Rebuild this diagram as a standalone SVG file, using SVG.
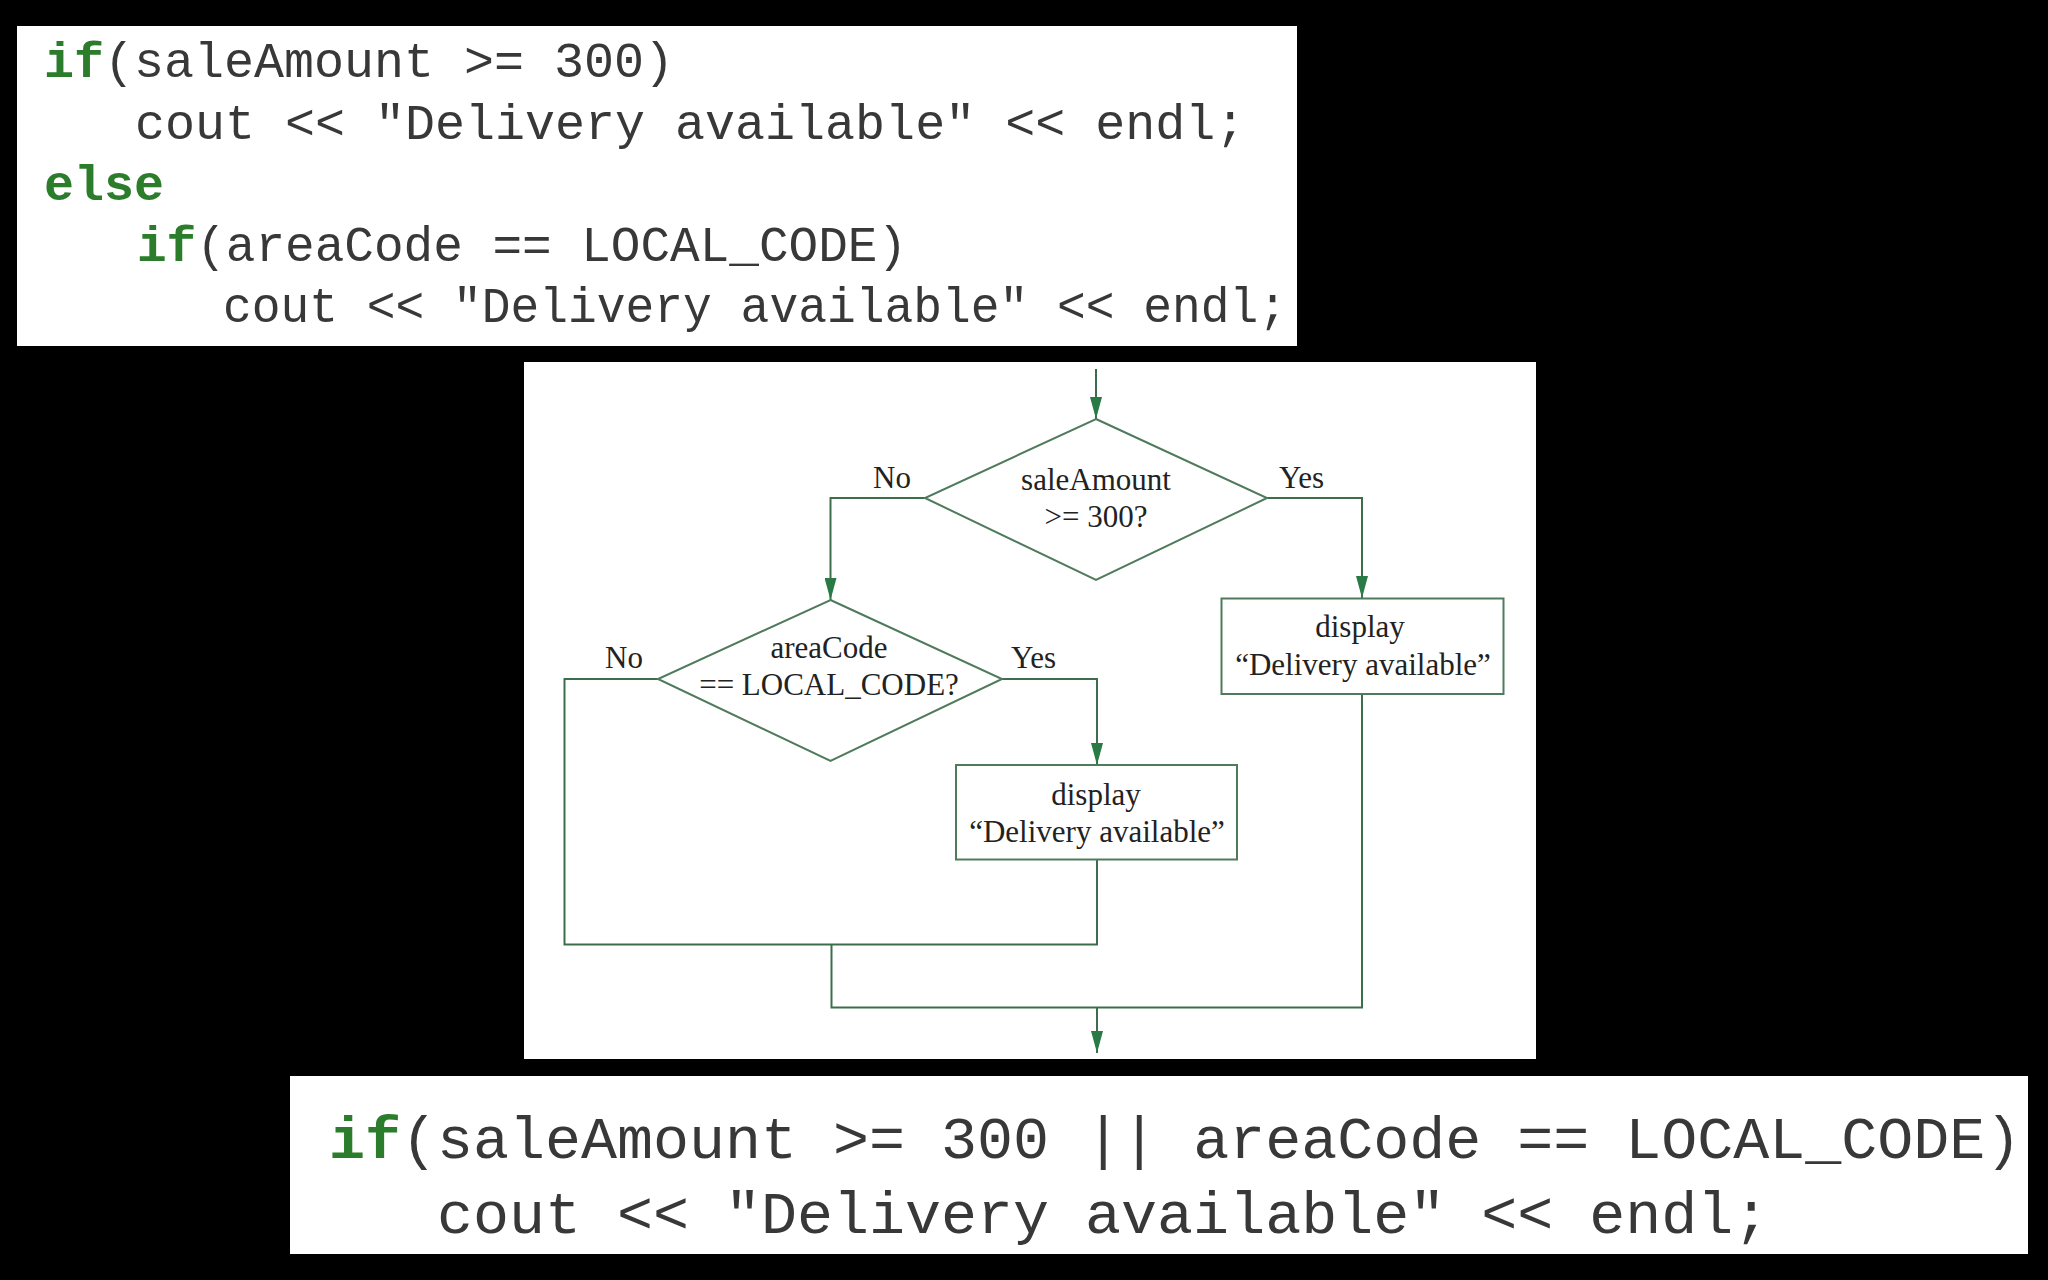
<svg xmlns="http://www.w3.org/2000/svg" width="2048" height="1280" viewBox="0 0 2048 1280">
  <defs>
    <style>
      .code { font-family: "Liberation Mono", "Courier New", monospace; fill: #383838; }
      .kw { fill: #2b7d2b; font-weight: bold; }
      .fc { font-family: "Liberation Serif", "Times New Roman", serif; font-size: 31px; fill: #222222; }
      .ln { fill: none; stroke: #3d6e4c; stroke-width: 2; }
      .box { fill: #ffffff; stroke: #4f7a5c; stroke-width: 2; }
    </style>
    <marker id="arr" viewBox="0 0 22 12" refX="22" refY="6" markerWidth="22" markerHeight="12" markerUnits="userSpaceOnUse" orient="auto">
      <path d="M0,0 L22,6 L0,12 Z" fill="#2a7a45"/>
    </marker>
  </defs>
  <rect x="0" y="0" width="2048" height="1280" fill="#000000"/>

  <g id="code-top">
    <rect x="17" y="26" width="1280" height="320" fill="#ffffff"/>
    <text class="code" font-size="50" x="44" y="77"><tspan class="kw">if</tspan>(saleAmount &gt;= 300)</text>
    <text class="code" font-size="50" x="135" y="139">cout &lt;&lt; "Delivery available" &lt;&lt; endl;</text>
    <text class="code kw" font-size="50" x="44" y="200">else</text>
    <text class="code" font-size="50" x="137" y="261" textLength="770" lengthAdjust="spacingAndGlyphs"><tspan class="kw">if</tspan>(areaCode == LOCAL_CODE)</text>
    <text class="code" font-size="50" x="223" y="322" textLength="1064" lengthAdjust="spacingAndGlyphs">cout &lt;&lt; "Delivery available" &lt;&lt; endl;</text>
  </g>

  <g id="flowchart-panel">
    <rect x="524" y="362" width="1012" height="697" fill="#ffffff"/>
  </g>

  <g id="connectors">
    <line class="ln" x1="1096" y1="369" x2="1096" y2="419" marker-end="url(#arr)"/>
    <polyline class="ln" points="925,498 830.5,498 830.5,600" marker-end="url(#arr)"/>
    <polyline class="ln" points="1267,498 1362,498 1362,598" marker-end="url(#arr)"/>
    <polyline class="ln" points="1002,679 1097,679 1097,765" marker-end="url(#arr)"/>
    <polyline class="ln" points="658,679 564.5,679 564.5,944.5 1097,944.5 1097,859.5"/>
    <polyline class="ln" points="831.5,944.5 831.5,1007.5 1362,1007.5 1362,694"/>
    <line class="ln" x1="1097" y1="1007.5" x2="1097" y2="1053" marker-end="url(#arr)"/>
    <text class="fc" x="873" y="488">No</text>
    <text class="fc" x="1279" y="488">Yes</text>
    <text class="fc" x="605" y="668">No</text>
    <text class="fc" x="1011" y="668">Yes</text>
  </g>

  <g id="decision-sale">
    <polygon class="box" points="1096,419 1267,498 1096,580 925,498"/>
    <text class="fc" x="1096" y="490" text-anchor="middle">saleAmount</text>
    <text class="fc" x="1096" y="527" text-anchor="middle">&gt;= 300?</text>
  </g>

  <g id="decision-area">
    <polygon class="box" points="830.5,600 1002,679 830.5,761 658,679"/>
    <text class="fc" x="829" y="658" text-anchor="middle">areaCode</text>
    <text class="fc" x="829" y="695" text-anchor="middle">== LOCAL_CODE?</text>
  </g>

  <g id="display-yes">
    <rect class="box" x="1221.5" y="598.5" width="282" height="95.5"/>
    <text class="fc" x="1360" y="637" text-anchor="middle">display</text>
    <text class="fc" x="1363" y="675" text-anchor="middle">“Delivery available”</text>
  </g>

  <g id="display-local">
    <rect class="box" x="956" y="765" width="281" height="94.5"/>
    <text class="fc" x="1096" y="805" text-anchor="middle">display</text>
    <text class="fc" x="1097" y="842" text-anchor="middle">“Delivery available”</text>
  </g>

  <g id="code-bottom">
    <rect x="290" y="1076" width="1738" height="178" fill="#ffffff"/>
    <text class="code" font-size="60" x="329" y="1158"><tspan class="kw">if</tspan>(saleAmount &gt;= 300 || areaCode == LOCAL_CODE)</text>
    <text class="code" font-size="60" x="437" y="1233">cout &lt;&lt; "Delivery available" &lt;&lt; endl;</text>
  </g>
</svg>
